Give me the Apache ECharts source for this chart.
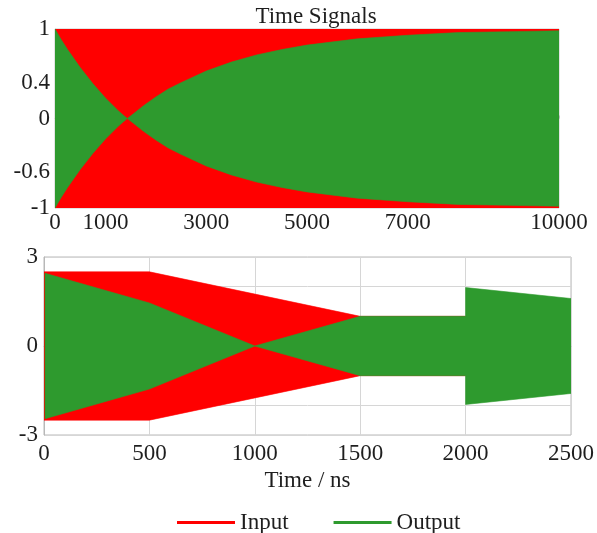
<!DOCTYPE html>
<html>
<head>
<meta charset="utf-8">
<script src="https://cdn.jsdelivr.net/npm/echarts@6/dist/echarts.min.js"></script>
<style>
html,body{margin:0;padding:0;background:#fff;}
#chart{width:597px;height:533px;}
</style>
</head>
<body>
<div id="chart"></div>
<script>
// ---- Data (envelope amplitudes) ----
const seriesNames = ['Input', 'Output'];

// Top panel (0 .. 10000)
const topInputTime = [0, 10000];
const topInputAmp = [1.0, 1.0];
const topOutputTime = [0, 125, 250, 375, 500, 625, 750, 875, 1000, 1125, 1250, 1350, 1435, 1550, 1750, 2000, 2250, 2500, 3000, 3500, 4000, 4500, 5000, 6000, 7000, 8000, 9000, 10000];
const topOutputAmp = [1.00, 0.88, 0.77, 0.67, 0.57, 0.48, 0.39, 0.31, 0.23, 0.16, 0.09, 0.04, 0.00, 0.05, 0.14, 0.24, 0.33, 0.40, 0.53, 0.63, 0.71, 0.77, 0.82, 0.89, 0.93, 0.96, 0.97, 0.98];

// Bottom panel (0 .. 2500 ns)
const botInputTime = [0, 500, 1500, 2000];
const botInputAmp = [2.5, 2.5, 1.0, 1.0];
const botOutputTime = [5, 500, 1000, 1500, 2000, 2000, 2500];
const botOutputAmp = [2.45, 1.45, 0.0, 1.0, 1.0, 1.97, 1.6];

// Tick labels
const topXTicks = [0, 1000, 3000, 5000, 7000, 10000];
const topYTicks = [1, 0.4, 0, -0.6, -1];
const botXTicks = [0, 500, 1000, 1500, 2000, 2500];
const botYTicks = [3, 0, -3];

const colors = { Input: '#ff0000', Output: '#2e9a2e' };
const FONT = "'Liberation Serif', 'Times New Roman', serif";
const TXT = '#1e1e1e';

function pairs(ts, as) { return ts.map((t, i) => [t, as[i]]); }

function bandRender(params, api) {
  if (params.dataIndexInside !== 0) return null;
  const n = params.dataInsideLength;
  const up = [], lo = [];
  for (let i = 0; i < n; i++) {
    const t = api.value(0, i), a = api.value(1, i);
    up.push(api.coord([t, a]));
    lo.push(api.coord([t, -a]));
  }
  const pts = up.concat(lo.reverse());
  const c = api.visual('color');
  return {
    type: 'polygon',
    shape: { points: pts },
    style: { fill: c, stroke: c, lineWidth: 0.6 }
  };
}

function band(name, ts, as, idx) {
  return {
    type: 'custom',
    name: name,
    xAxisIndex: idx,
    yAxisIndex: idx,
    clip: true,
    renderItem: bandRender,
    itemStyle: { color: colors[name] },
    encode: { x: 0, y: 1 },
    data: pairs(ts, as),
    silent: true
  };
}

function near(v, list) { return list.some(x => Math.abs(x - v) < 1e-6); }

const labelStyle = { fontFamily: FONT, fontSize: 23, color: TXT };

const option = {
  animation: false,
  title: {
    text: 'Time Signals',
    left: 311, top: 0, textAlign: 'center',
    textStyle: { fontFamily: FONT, fontSize: 23, fontWeight: 'normal', color: TXT }
  },
  legend: {
    data: seriesNames.map(n => ({ name: n, icon: 'rect' })),
    left: 172, top: 506,
    itemWidth: 58, itemHeight: 3, itemGap: 45,
    textStyle: { fontFamily: FONT, fontSize: 23, color: TXT }
  },
  grid: [
    { left: 55, top: 29, width: 504, height: 179, show: true, borderColor: '#c8c8c8', borderWidth: 1, containLabel: false },
    { left: 44, top: 257, width: 530, height: 178, show: true, borderColor: '#b8b8b8', borderWidth: 1, containLabel: false }
  ],
  xAxis: [
    {
      gridIndex: 0, type: 'value', min: 0, max: 10000, interval: 1000,
      axisLine: { show: true, lineStyle: { color: '#c8c8c8' } },
      axisTick: { show: true, inside: true, length: 3, lineStyle: { color: '#bbb' } },
      splitLine: { show: false },
      axisLabel: Object.assign({ margin: 3, formatter: v => near(v, topXTicks) ? String(v) : '' }, labelStyle)
    },
    {
      gridIndex: 1, type: 'value', min: 0, max: 2500, interval: 500,
      axisLine: { show: true, lineStyle: { color: '#b8b8b8' } },
      axisTick: { show: false },
      splitLine: { show: true, lineStyle: { color: '#d6d6d6', width: 1 } },
      axisLabel: Object.assign({ margin: 7, formatter: v => near(v, botXTicks) ? String(v) : '' }, labelStyle),
      name: 'Time / ns', nameLocation: 'middle', nameGap: 34,
      nameTextStyle: labelStyle
    }
  ],
  yAxis: [
    {
      gridIndex: 0, type: 'value', min: -1, max: 1, interval: 0.2,
      axisLine: { show: true, lineStyle: { color: '#c8c8c8' } },
      axisTick: { show: false },
      splitLine: { show: false },
      axisLabel: Object.assign({ margin: 5, formatter: v => near(v, topYTicks) ? String(Math.round(v * 10) / 10) : '' }, labelStyle)
    },
    {
      gridIndex: 1, type: 'value', min: -3, max: 3, interval: 1,
      axisLine: { show: true, lineStyle: { color: '#b8b8b8' } },
      axisTick: { show: false },
      splitLine: { show: true, lineStyle: { color: '#d6d6d6', width: 1 } },
      axisLabel: Object.assign({ margin: 6, formatter: v => near(v, botYTicks) ? String(v) : '' }, labelStyle)
    }
  ],
  series: [
    band('Input', topInputTime, topInputAmp, 0),
    band('Output', topOutputTime, topOutputAmp, 0),
    band('Input', botInputTime, botInputAmp, 1),
    band('Output', botOutputTime, botOutputAmp, 1)
  ]
};

const chart = echarts.init(document.getElementById('chart'), null, { renderer: 'canvas' });
chart.setOption(option);
</script>
</body>
</html>
